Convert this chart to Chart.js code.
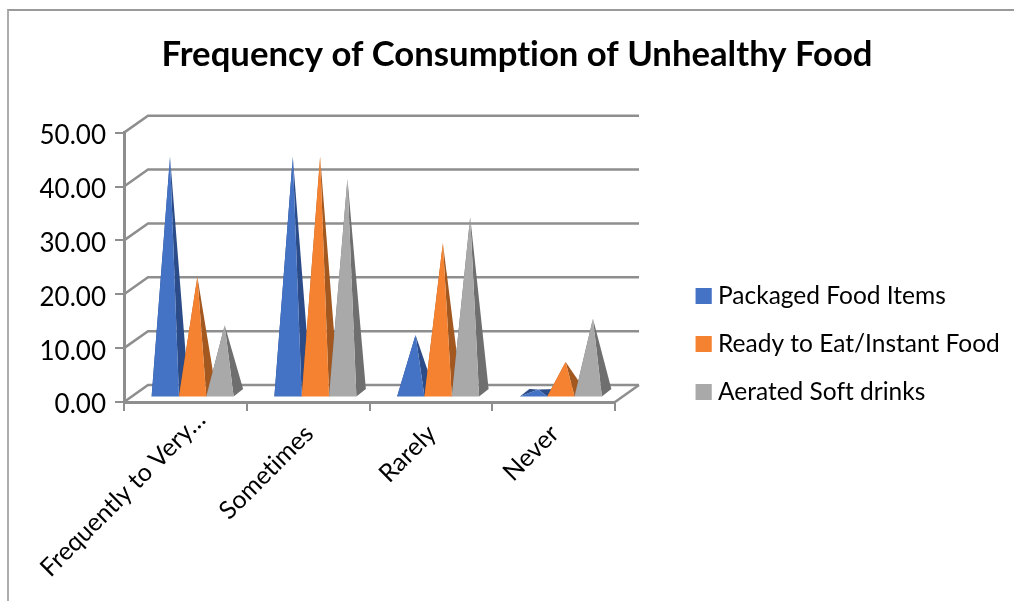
<!DOCTYPE html>
<html>
<head>
<meta charset="utf-8">
<style>
  html, body { margin: 0; padding: 0; background: #fff; overflow: hidden; }
  #frame { position: absolute; left: 7px; top: 9px; right: 0; bottom: 0; border-left: 2px solid #adadad; border-top: 2px solid #9a9a9a; }
  #wrap { position: absolute; left: 0; top: 0; width: 1014px; height: 601px; }
</style>
</head>
<body>
<div id="frame"></div>
<div id="wrap"><canvas id="chart" width="1014" height="601"></canvas></div>
<script src="https://cdn.jsdelivr.net/npm/chart.js@4/dist/chart.umd.min.js"></script>
<script>
const categories = ["Frequently to Very\u2026", "Sometimes", "Rarely", "Never"];
const packagedFood = [44, 44, 10.9, 0.8];
const readyToEat = [21.7, 44, 28, 5.9];
const softDrinks = [12.7, 39.9, 32.8, 13.9];

const FONT = "Lato, Carlito, Calibri, sans-serif";
const GRID = "#8e8e8e";

// depth of the fake 3D box, wall sits this far behind the axis
const WALL_DX = 24, WALL_DY = -17;
// pyramid base: front edge is shifted off the axis, back edge is depth further on
const BASE_DX = 7.25, BASE_DY = -4.5, DEPTH_DX = 9.5, DEPTH_DY = -7.5;

function poly(ctx, color, pts) {
    ctx.fillStyle = color;
    ctx.beginPath();
    pts.forEach((p, i) => i ? ctx.lineTo(p[0], p[1]) : ctx.moveTo(p[0], p[1]));
    ctx.closePath();
    ctx.fill();
}

// back wall + floor, hung off the library's own scales
const box3d = {
    id: "box3d",
    beforeDraw(chart) {
        // Lato's "ti" ligature does not belong in this text
        chart.ctx.textRendering = "optimizeSpeed";
    },
    beforeDatasetsDraw(chart) {
        const { ctx, scales: { x, y } } = chart;
        ctx.save();
        ctx.strokeStyle = GRID;
        ctx.lineWidth = 2.5;
        y.ticks.forEach(t => {
            const py = y.getPixelForValue(t.value);
            ctx.beginPath();
            ctx.moveTo(x.left, py);
            ctx.lineTo(x.left + WALL_DX, py + WALL_DY);
            ctx.lineTo(x.right + WALL_DX, py + WALL_DY);
            ctx.stroke();
        });
        const floor = y.getPixelForValue(0);
        ctx.beginPath();
        ctx.moveTo(x.right, floor);
        ctx.lineTo(x.right + WALL_DX, floor + WALL_DY);
        ctx.stroke();
        ctx.restore();
    }
};

// swap each bar for a pyramid, same x / width / value as the bar element
const pyramids = {
    id: "pyramids",
    beforeDatasetDraw() {
        return false;
    },
    // Chart.js paints datasets last to first; here the later series must cover the earlier
    afterDatasetsDraw(chart) {
        const { ctx } = chart;
        chart.data.datasets.forEach((ds, index) => {
            chart.getDatasetMeta(index).data.forEach(bar => {
                const half = bar.width / 2;
                const fl = [bar.x - half + BASE_DX, bar.base + BASE_DY];
                const fr = [bar.x + half + BASE_DX, bar.base + BASE_DY];
                const bl = [fl[0] + DEPTH_DX, fl[1] + DEPTH_DY];
                const br = [fr[0] + DEPTH_DX, fr[1] + DEPTH_DY];
                const apex = [bar.x + BASE_DX + DEPTH_DX / 2, bar.y + BASE_DY + DEPTH_DY / 2];
                poly(ctx, ds.sideColor, [fl, bl, apex]);
                poly(ctx, ds.sideColor, [fr, br, apex]);
                poly(ctx, ds.backgroundColor, [fl, fr, apex]);
            });
        });
    }
};

const placeBlocks = {
    id: "placeBlocks",
    afterLayout(chart) {
        chart.titleBlock.left = 20;
        chart.titleBlock.right = 1014;
        const lg = chart.legend;
        lg.left = 672.25;
        lg.right = 1014;
        lg.width = lg.right - lg.left;
        lg.top = 260.25;
        lg.bottom = 560;
        lg.height = lg.bottom - lg.top;
        // the long truncated label sits a bit further along than the others
        const first = chart.scales.x.getLabelItems()[0];
        first.options.translation[0] += 15;
        first.options.translation[1] -= 14;
    },
    // legend text gap is fixed at half the font size, so the key is widened rightward
    afterDraw(chart) {
        const { ctx, legend } = chart;
        const pad = legend.options.labels.padding;
        legend.legendHitBoxes.forEach((h, i) => {
            const rowTop = legend.top + pad + i * (h.height + pad);
            ctx.fillStyle = chart.data.datasets[i].backgroundColor;
            ctx.fillRect(legend.left + pad, rowTop + (h.height - 16) / 2, 16, 16);
        });
    }
};

new Chart(document.getElementById("chart"), {
    type: "bar",
    data: {
        labels: categories,
        datasets: [
            { label: "Packaged Food Items", data: packagedFood, backgroundColor: "#4472C4", sideColor: "#2B4C88" },
            { label: "Ready to Eat/Instant Food", data: readyToEat, backgroundColor: "#F58231", sideColor: "#A2581F" },
            { label: "Aerated Soft drinks", data: softDrinks, backgroundColor: "#A9A9A9", sideColor: "#6F6F6F" }
        ]
    },
    plugins: [box3d, pyramids, placeBlocks],
    options: {
        responsive: false,
        animation: false,
        layout: { padding: { left: 0, right: 194, top: 0, bottom: 0 } },
        datasets: { bar: { barPercentage: 1, categoryPercentage: 0.668 } },
        plugins: {
            tooltip: { enabled: false },
            title: {
                display: true,
                text: "Frequency of Consumption of Unhealthy Food",
                color: "#000",
                font: { family: FONT, size: 34.7, weight: "bold" },
                padding: { top: 33.5, bottom: 57.5 }
            },
            legend: {
                position: "right",
                align: "start",
                labels: {
                    color: "#000",
                    font: { family: FONT, size: 24.5 },
                    boxWidth: 10,
                    boxHeight: 16,
                    padding: 23.5
                }
            }
        },
        scales: {
            x: {
                afterFit(s) { s.height = 199; },
                grid: { drawOnChartArea: false, color: GRID, lineWidth: 2, tickLength: 9 },
                border: { color: GRID, width: 3 },
                ticks: {
                    color: "#000",
                    font: { family: FONT, size: 25 },
                    minRotation: 45,
                    maxRotation: 45,
                    autoSkip: false,
                    labelOffset: 1,
                    padding: 8
                }
            },
            y: {
                min: 0,
                max: 50,
                afterFit(s) { s.width = 124; },
                grid: { drawOnChartArea: false, color: GRID, lineWidth: 2, tickLength: 9 },
                border: { color: GRID, width: 3 },
                ticks: {
                    stepSize: 10,
                    color: "#000",
                    font: { family: FONT, size: 26 },
                    padding: 9,
                    labelOffset: 3,
                    callback: v => v.toFixed(2)
                }
            }
        }
    }
});
</script>
</body>
</html>
